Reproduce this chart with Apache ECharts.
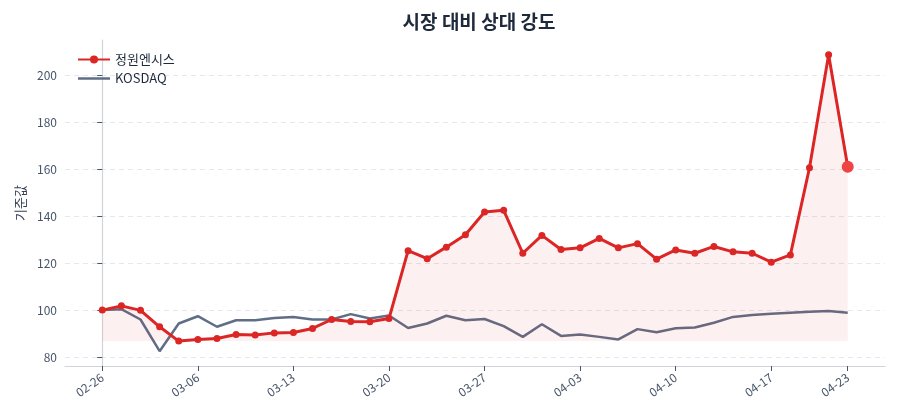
<!DOCTYPE html>
<html>
<head>
<meta charset="utf-8">
<script src="https://cdn.jsdelivr.net/npm/echarts@6/dist/echarts.min.js"></script>
<style>
  html, body { margin: 0; padding: 0; background: #fff; }
  #chart { width: 900px; height: 420px; }
</style>
</head>
<body>
<div id="chart"></div>
<script>
// Trading days (2026)
const dates = [
  '02-26', '02-27', '03-03', '03-04', '03-05', '03-06',
  '03-09', '03-10', '03-11', '03-12', '03-13',
  '03-16', '03-17', '03-18', '03-19', '03-20',
  '03-23', '03-24', '03-25', '03-26', '03-27',
  '03-30', '03-31', '04-01', '04-02', '04-03',
  '04-06', '04-07', '04-08', '04-09', '04-10',
  '04-13', '04-14', '04-15', '04-16', '04-17',
  '04-20', '04-21', '04-22', '04-23'
];

// Rebased values (start = 100)
const stockValues = [
  100.0, 101.8, 99.9, 92.9, 86.8, 87.5,
  87.9, 89.6, 89.4, 90.3, 90.5,
  92.2, 96.0, 95.1, 95.0, 96.4,
  125.3, 121.9, 126.8, 132.1, 141.8,
  142.5, 124.2, 131.8, 125.8, 126.5,
  130.5, 126.5, 128.3, 121.7, 125.6,
  124.2, 127.1, 124.8, 124.2, 120.4,
  123.5, 160.6, 208.7, 161.0
];

const kosdaqValues = [
  100.0, 100.4, 96.0, 82.5, 94.3, 97.4,
  92.9, 95.7, 95.7, 96.6, 97.1,
  96.0, 96.0, 98.3, 96.4, 97.7,
  92.4, 94.3, 97.6, 95.7, 96.2,
  93.2, 88.6, 94.0, 89.0, 89.6,
  88.6, 87.5, 91.9, 90.6, 92.3,
  92.6, 94.6, 97.1, 97.9, 98.4,
  98.9, 99.3, 99.6, 98.9
];

const yTicks = [80, 100, 120, 140, 160, 180, 200];
const xTickIdx = [0, 5, 10, 15, 20, 25, 30, 35, 39];

const FONT = 'Noto Sans CJK KR';
const RED = '#dc2626';
const GRAY = '#5f6e86';

const chart = echarts.init(document.getElementById('chart'));

// build [index, value] pairs; last red point drawn bigger
const stockData = stockValues.map((v, i) => {
  if (i === stockValues.length - 1) {
    return { value: [i, v], symbolSize: 12, itemStyle: { color: '#ef4444' } };
  }
  return [i, v];
});
const kosdaqData = kosdaqValues.map((v, i) => [i, v]);

const options = {
  animation: false,
  textStyle: { fontFamily: FONT },
  title: {
    text: '시장 대비 상대 강도',
    left: 474,
    top: 7,
    textAlign: 'center',
    textStyle: { fontFamily: FONT, fontSize: 19, fontWeight: 'bold', color: '#1e293b' }
  },
  legend: {
    orient: 'vertical',
    left: 72,
    top: 48,
    itemWidth: 32,
    itemHeight: 10,
    itemGap: 6,
    textStyle: { fontFamily: FONT, fontSize: 13, color: '#1e293b' },
    data: [
      { name: '정원엔시스' },
      { name: 'KOSDAQ', icon: 'path://M0,4 L32,4 L32,6.5 L0,6.5 Z' }
    ]
  },
  grid: { left: 65, right: 15, top: 40, bottom: 54 },
  xAxis: {
    type: 'value',
    min: -1.95,
    max: 40.95,
    axisLine: { lineStyle: { color: '#d1d5db', width: 1.2 } },
    axisTick: {
      customValues: xTickIdx,
      length: 5,
      lineStyle: { color: '#475569' }
    },
    axisLabel: {
      customValues: xTickIdx,
      rotate: 35,
      margin: 10,
      fontSize: 12,
      color: '#475569',
      fontFamily: FONT,
      formatter: v => dates[v]
    },
    splitLine: { show: false }
  },
  yAxis: {
    type: 'value',
    min: 76.2,
    max: 215,
    name: '기준값',
    nameLocation: 'middle',
    nameGap: 38,
    nameRotate: 90,
    nameTextStyle: { fontFamily: FONT, fontSize: 13, color: '#334155' },
    axisLine: { show: true, lineStyle: { color: '#d1d5db', width: 1.2 } },
    axisTick: {
      show: true,
      customValues: yTicks,
      length: 5,
      lineStyle: { color: '#475569' }
    },
    axisLabel: {
      customValues: yTicks,
      fontSize: 12,
      color: '#475569',
      fontFamily: FONT
    },
    splitLine: {
      show: true,
      lineStyle: { color: '#e5e7eb', type: [5, 4], width: 1 }
    }
  },
  series: [
    {
      name: '정원엔시스',
      type: 'line',
      data: stockData,
      symbol: 'circle',
      symbolSize: 7,
      z: 3,
      lineStyle: { color: RED, width: 3 },
      itemStyle: { color: RED },
      areaStyle: {
        color: 'rgba(220, 38, 38, 0.10)',
        origin: Math.min(...stockValues)
      }
    },
    {
      name: 'KOSDAQ',
      type: 'line',
      data: kosdaqData,
      showSymbol: false,
      symbol: 'none',
      z: 2,
      lineStyle: { color: GRAY, width: 2.5 },
      itemStyle: { color: GRAY }
    }
  ]
};

chart.setOption(options);
</script>
</body>
</html>
